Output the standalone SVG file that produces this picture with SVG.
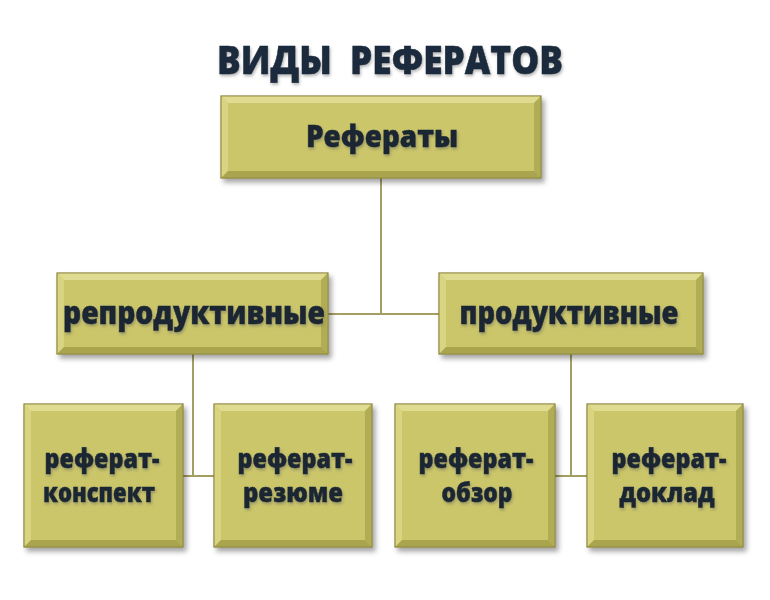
<svg xmlns="http://www.w3.org/2000/svg" width="770" height="600" viewBox="0 0 770 600">
<defs>
<filter id="sh" x="-10%" y="-10%" width="125%" height="130%">
<feGaussianBlur in="SourceAlpha" stdDeviation="2.5"/>
<feOffset dx="3" dy="4" result="b"/>
<feFlood flood-color="#000" flood-opacity="0.35"/>
<feComposite in2="b" operator="in"/>
<feMerge><feMergeNode/><feMergeNode in="SourceGraphic"/></feMerge>
</filter>
<filter id="glow" x="-10%" y="-30%" width="120%" height="160%">
<feGaussianBlur in="SourceAlpha" stdDeviation="1.5"/>
<feOffset dx="1" dy="1.5" result="b"/>
<feFlood flood-color="#5a5a5a" flood-opacity="0.45"/>
<feComposite in2="b" operator="in"/>
<feMerge><feMergeNode/><feMergeNode in="SourceGraphic"/></feMerge>
</filter>
</defs>
<style>
.box{fill:#CBC66A;stroke:#847F34;stroke-width:1.2}
.bt{fill:#E6E29E;opacity:0.75}
.bl{fill:#DCD88A;opacity:0.75}
.bb{fill:#9E9A45;opacity:0.75}
.br{fill:#A8A44E;opacity:0.75}
.t{font-family:"Open Sans","DejaVu Sans",sans-serif;font-weight:800;fill:#1A2833;stroke:#1A2833;stroke-width:0.5;text-anchor:middle;filter:url(#glow)}
.title{font-family:"Open Sans","DejaVu Sans",sans-serif;font-weight:800;fill:#1A2B3C;stroke:#1A2B3C;stroke-width:0.5;text-anchor:middle;font-size:39px;filter:url(#glow)}
.c{stroke:#A39F62;stroke-width:2;fill:none}
</style>
<rect width="770" height="600" fill="#FFFFFF"/>
<text class="title" x="390" y="74" textLength="346" lengthAdjust="spacingAndGlyphs">ВИДЫ&#160; РЕФЕРАТОВ</text>
<g id="connectors">
<path class="c" d="M381 178V314M328 314H439"/>
<path class="c" d="M193 354V476M183 476H214"/>
<path class="c" d="M571 354V476M555 476H587"/>
</g>
<g id="n-top">
<g filter="url(#sh)"><rect class="box" x="221" y="96" width="320" height="82"/></g>
<polygon class="bt" points="221.6,96.6 540.4,96.6 534,103 228,103"/>
<polygon class="bl" points="221.6,96.6 228,103 228,171 221.6,177.4"/>
<polygon class="bb" points="221.6,177.4 228,171 534,171 540.4,177.4"/>
<polygon class="br" points="540.4,96.6 540.4,177.4 534,171 534,103"/>
<text class="t" x="382" y="147" font-size="30" textLength="152" lengthAdjust="spacingAndGlyphs">Рефераты</text>
</g>
<g id="n-repro">
<g filter="url(#sh)"><rect class="box" x="57" y="273" width="271" height="81"/></g>
<polygon class="bt" points="57.6,273.6 327.4,273.6 321,280 64,280"/>
<polygon class="bl" points="57.6,273.6 64,280 64,347 57.6,353.4"/>
<polygon class="bb" points="57.6,353.4 64,347 321,347 327.4,353.4"/>
<polygon class="br" points="327.4,273.6 327.4,353.4 321,347 321,280"/>
<text class="t" x="194" y="324" font-size="31" textLength="262" lengthAdjust="spacingAndGlyphs">репродуктивные</text>
</g>
<g id="n-prod">
<g filter="url(#sh)"><rect class="box" x="439" y="273" width="264" height="81"/></g>
<polygon class="bt" points="439.6,273.6 702.4,273.6 696,280 446,280"/>
<polygon class="bl" points="439.6,273.6 446,280 446,347 439.6,353.4"/>
<polygon class="bb" points="439.6,353.4 446,347 696,347 702.4,353.4"/>
<polygon class="br" points="702.4,273.6 702.4,353.4 696,347 696,280"/>
<text class="t" x="569" y="324" font-size="31" textLength="219" lengthAdjust="spacingAndGlyphs">продуктивные</text>
</g>
<g id="n-konspekt">
<g filter="url(#sh)"><rect class="box" x="24" y="404" width="159" height="143"/></g>
<polygon class="bt" points="24.6,404.6 182.4,404.6 176,411 31,411"/>
<polygon class="bl" points="24.6,404.6 31,411 31,540 24.6,546.4"/>
<polygon class="bb" points="24.6,546.4 31,540 176,540 182.4,546.4"/>
<polygon class="br" points="182.4,404.6 182.4,546.4 176,540 176,411"/>
<text class="t" x="102" y="468" font-size="27" textLength="115" lengthAdjust="spacingAndGlyphs">реферат-</text>
<text class="t" x="99" y="502" font-size="27" textLength="112" lengthAdjust="spacingAndGlyphs">конспект</text>
</g>
<g id="n-rezyume">
<g filter="url(#sh)"><rect class="box" x="214" y="404" width="158" height="143"/></g>
<polygon class="bt" points="214.6,404.6 371.4,404.6 365,411 221,411"/>
<polygon class="bl" points="214.6,404.6 221,411 221,540 214.6,546.4"/>
<polygon class="bb" points="214.6,546.4 221,540 365,540 371.4,546.4"/>
<polygon class="br" points="371.4,404.6 371.4,546.4 365,540 365,411"/>
<text class="t" x="295" y="468" font-size="27" textLength="115" lengthAdjust="spacingAndGlyphs">реферат-</text>
<text class="t" x="293" y="502" font-size="27" textLength="100" lengthAdjust="spacingAndGlyphs">резюме</text>
</g>
<g id="n-obzor">
<g filter="url(#sh)"><rect class="box" x="395" y="404" width="160" height="143"/></g>
<polygon class="bt" points="395.6,404.6 554.4,404.6 548,411 402,411"/>
<polygon class="bl" points="395.6,404.6 402,411 402,540 395.6,546.4"/>
<polygon class="bb" points="395.6,546.4 402,540 548,540 554.4,546.4"/>
<polygon class="br" points="554.4,404.6 554.4,546.4 548,540 548,411"/>
<text class="t" x="476" y="468" font-size="27" textLength="115" lengthAdjust="spacingAndGlyphs">реферат-</text>
<text class="t" x="477" y="502" font-size="27" textLength="71" lengthAdjust="spacingAndGlyphs">обзор</text>
</g>
<g id="n-doklad">
<g filter="url(#sh)"><rect class="box" x="587" y="404" width="156" height="143"/></g>
<polygon class="bt" points="587.6,404.6 742.4,404.6 736,411 594,411"/>
<polygon class="bl" points="587.6,404.6 594,411 594,540 587.6,546.4"/>
<polygon class="bb" points="587.6,546.4 594,540 736,540 742.4,546.4"/>
<polygon class="br" points="742.4,404.6 742.4,546.4 736,540 736,411"/>
<text class="t" x="669" y="468" font-size="27" textLength="115" lengthAdjust="spacingAndGlyphs">реферат-</text>
<text class="t" x="667" y="502" font-size="27" textLength="95" lengthAdjust="spacingAndGlyphs">доклад</text>
</g>
</svg>
